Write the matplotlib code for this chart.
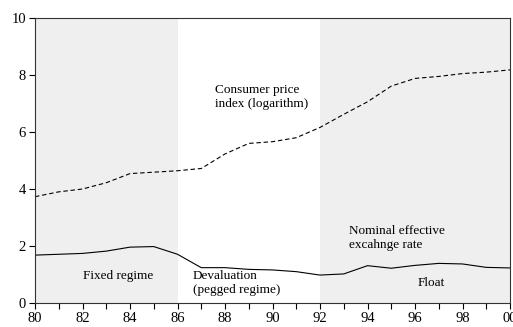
import numpy as np
import matplotlib
matplotlib.use('Agg')
import matplotlib.pyplot as plt

plt.rcParams['font.family'] = ['Liberation Serif', 'DejaVu Serif']

years = list(range(80, 101))
cpi = [3.73, 3.90, 4.00, 4.22, 4.54, 4.59, 4.64, 4.72, 5.23, 5.60, 5.66,
       5.80, 6.16, 6.62, 7.06, 7.61, 7.88, 7.95, 8.05, 8.10, 8.18]
neer = [1.68, 1.71, 1.74, 1.82, 1.96, 1.98, 1.71, 1.24, 1.24, 1.18, 1.16,
        1.10, 0.98, 1.02, 1.31, 1.22, 1.32, 1.39, 1.37, 1.25, 1.23]
regimes = [(80, 86), (92, 100)]
xtick_labels = ['80', '82', '84', '86', '88', '90', '92', '94', '96', '98', '00']

fig = plt.figure(figsize=(5.13, 3.27), dpi=100)
ax = fig.add_axes([35 / 513, 24 / 327, 475 / 513, 285 / 327])

for a, b in regimes:
    ax.axvspan(a, b, color='#efefef', lw=0, zorder=0)

ax.plot(years, cpi, color='black', lw=0.8, ls=(0, (4, 2.5)))
ax.plot(years, neer, color='black', lw=0.8)

ax.set_xlim(80, 100)
ax.set_ylim(0, 10)
ax.set_xticks(range(80, 101, 2))
ax.set_xticklabels(xtick_labels)
ax.set_xticks(range(80, 101), minor=True)
ax.set_yticks(range(0, 11, 2))
ax.tick_params(labelsize=10.5, length=4.5, width=0.8, direction='out', pad=2)
ax.tick_params(which='minor', length=4.5, width=0.8)
for s in ax.spines.values():
    s.set_linewidth(0.8)
    s.set_color('#333333')

fs = 9.5
ax.text(87.6, 7.7, 'Consumer price\nindex (logarithm)', fontsize=fs, va='top', linespacing=1.25)
ax.text(83.5, 0.95, 'Fixed regime', fontsize=fs, ha='center', va='center')
ax.text(86.65, 1.15, 'Devaluation\n(pegged regime)', fontsize=fs, va='top', linespacing=1.25)
ax.text(93.2, 2.75, 'Nominal effective\nexcahnge rate', fontsize=fs, va='top', linespacing=1.25)
ax.text(96.7, 0.7, 'Float', fontsize=fs, ha='center', va='center')

fig.savefig('out.png', dpi=100)
